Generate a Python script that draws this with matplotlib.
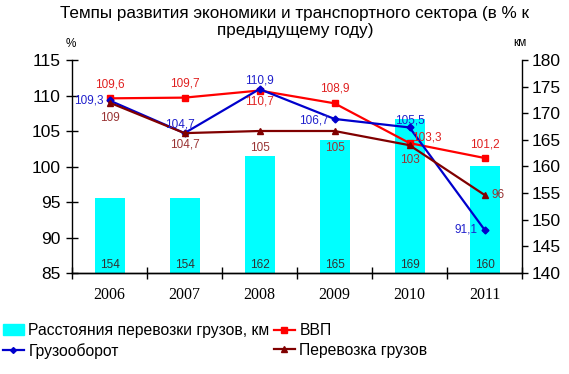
import matplotlib
matplotlib.use("Agg")
import matplotlib.pyplot as plt
from matplotlib.lines import Line2D
from matplotlib.patches import Patch

years = ["2006", "2007", "2008", "2009", "2010", "2011"]
distance_km = [154, 154, 162, 165, 169, 160]
gdp = [109.6, 109.7, 110.7, 108.9, 103.3, 101.2]
turnover = [109.3, 104.7, 110.9, 106.7, 105.5, 91.1]
freight = [109, 104.7, 105, 105, 103, 96]

plt.rcParams['font.family'] = ['Liberation Sans', 'DejaVu Sans']

fig = plt.figure(figsize=(5.69, 3.74), dpi=100)
ax = fig.add_axes([72/569, 1-273/374, 450/569, 213/374])
ax2 = ax.twinx()

x = list(range(len(years)))

# bars on right axis
ax2.bar(x, distance_km, width=0.4, color='#00FFFF', zorder=1)
ax2.set_ylim(140, 180)
ax2.set_yticks(range(140, 181, 5))
for xi, v in zip(x, distance_km):
    ax2.text(xi, 141.5, str(v), ha='center', va='center', fontsize=8.5, color='#333333')

# put lines on top
ax.set_zorder(ax2.get_zorder() + 1)
ax.patch.set_visible(False)

ax.plot(x, gdp, color='#FF0000', marker='s', markersize=5, lw=1.6)
ax.plot(x, turnover, color='#0000CC', marker='D', markersize=3.5, lw=1.6)
ax.plot(x, freight, color='#800000', marker='^', markersize=5, lw=1.6)

ax.set_ylim(85, 115)
ax.set_xlim(-0.5, 5.5)
ax.set_yticks(range(85, 116, 5))

def lab(xi, yi, txt, dx, dy, color, ha='center'):
    ax.annotate(txt, (xi, yi), xytext=(dx, dy), textcoords='offset points',
                ha=ha, va='center', fontsize=8.5, color=color)

gdp_c = '#E02020'
blu_c = '#2020CC'
frt_c = '#993333'
gdp_off = [(0, 10), (0, 10), (0, -8), (0, 11), (2, 4), (0, 10)]
gdp_ha = ['center', 'center', 'center', 'center', 'left', 'center']
for xi, v, o, h in zip(x, gdp, gdp_off, gdp_ha):
    lab(xi, v, f"{v:g}".replace('.', ','), o[0], o[1], gdp_c, h)

blu_off = [(-4, 0), (-3, 6), (0, 6), (-4, -1), (0, 5), (-5, 0)]
blu_ha = ['right', 'center', 'center', 'right', 'center', 'right']
for xi, v, o, h in zip(x, turnover, blu_off, blu_ha):
    lab(xi, v, f"{v:g}".replace('.', ','), o[0], o[1], blu_c, h)

frt_off = [(0, -11), (0, -8), (0, -12), (0, -12), (0, -11), (5, 0)]
frt_ha = ['center', 'center', 'center', 'center', 'center', 'left']
for xi, v, o, h in zip(x, freight, frt_off, frt_ha):
    lab(xi, v, f"{v:g}".replace('.', ','), o[0], o[1], frt_c, h)

# axes styling
ax.set_xticks(x)
ax.set_xticklabels(years, fontfamily='Liberation Serif', fontsize=11.5)
ax.tick_params(axis='x', length=0, pad=10)
ax.set_xticks([i - 0.5 for i in range(7)], minor=True)
ax.tick_params(axis='x', which='minor', direction='inout', length=8, width=1)
ax.tick_params(axis='y', direction='inout', length=8, width=1, labelsize=12.5, pad=4)
ax2.tick_params(axis='y', direction='out', length=4, width=1, labelsize=12.5, pad=3)
ax2.tick_params(axis='x', length=0)
for a in (ax, ax2):
    a.spines['top'].set_visible(False)
    for s in ('left', 'right', 'bottom'):
        a.spines[s].set_linewidth(1)
ax2.spines['left'].set_visible(False)
ax.spines['right'].set_visible(False)

fig.text(71/569, 1-44/374, '%', ha='center', va='center', fontsize=8.5)
fig.text(520/569, 1-43/374, 'км', ha='center', va='center', fontsize=8.5)
fig.text(295/569, 1-22/374, 'Темпы развития экономики и транспортного сектора (в % к\nпредыдущему году)',
         ha='center', va='center', fontsize=12.3, linespacing=1.15)

handles = [Patch(color='#00FFFF'),
           Line2D([], [], color='#0000CC', marker='D', markersize=3, lw=1.6),
           Line2D([], [], color='#FF0000', marker='s', markersize=4, lw=1.6),
           Line2D([], [], color='#800000', marker='^', markersize=4, lw=1.6)]
labels = ['Расстояния перевозки грузов, км', 'Грузооборот', 'ВВП', 'Перевозка грузов']
fig.legend(handles, labels, ncol=2, loc='upper left', bbox_to_anchor=(0.0, 1-320/374),
           frameon=False, fontsize=11.3, handlelength=1.3, handletextpad=0.3,
           columnspacing=0.3, labelspacing=0.3, borderaxespad=0, borderpad=0.2)

fig.savefig('out.png', dpi=100)
